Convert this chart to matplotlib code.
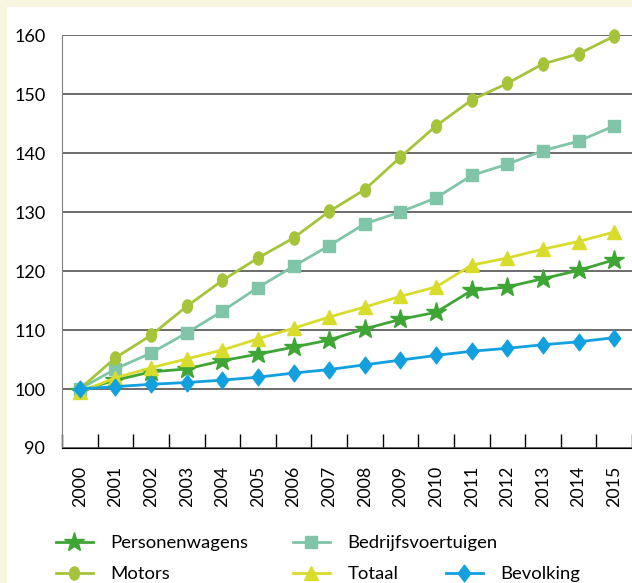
import matplotlib.pyplot as plt
import numpy as np
from matplotlib.patches import Rectangle
from matplotlib.path import Path

plt.rcParams['font.family'] = ['Lato', 'DejaVu Sans']

years = ['2000', '2001', '2002', '2003', '2004', '2005', '2006', '2007',
         '2008', '2009', '2010', '2011', '2012', '2013', '2014', '2015']
personenwagens = [99.7, 101.5, 102.9, 103.4, 104.8, 105.9, 107.1, 108.3,
                  110.2, 111.8, 113.0, 116.7, 117.3, 118.7, 120.1, 121.9]
bedrijfsvoertuigen = [100.0, 103.4, 106.1, 109.5, 113.2, 117.2, 120.8, 124.3,
                      128.0, 130.0, 132.4, 136.2, 138.1, 140.4, 142.0, 144.6]
motors = [100.0, 105.3, 109.1, 114.0, 118.4, 122.2, 125.6, 130.1,
          133.8, 139.3, 144.6, 149.0, 151.8, 155.1, 156.8, 159.8]
totaal = [99.5, 101.9, 103.6, 105.1, 106.6, 108.5, 110.3, 112.2,
          113.9, 115.7, 117.3, 121.0, 122.2, 123.7, 125.0, 126.6]
bevolking = [100.0, 100.4, 100.8, 101.1, 101.5, 102.0, 102.7, 103.3,
             104.1, 104.9, 105.7, 106.4, 106.9, 107.5, 108.0, 108.7]

# tall ellipse and diamond markers like the original
ellipse = Path(Path.unit_circle().vertices * [0.75, 1.0], Path.unit_circle().codes)
diamond = Path([(0, 1), (0.75, 0), (0, -1), (-0.75, 0), (0, 1)],
               [Path.MOVETO, Path.LINETO, Path.LINETO, Path.LINETO, Path.CLOSEPOLY])

series = {
    'Personenwagens': (personenwagens, '#3fa535', '*', 15),
    'Bedrijfsvoertuigen': (bedrijfsvoertuigen, '#80c5a8', 's', 8),
    'Motors': (motors, '#a5c43a', ellipse, 9.5),
    'Totaal': (totaal, '#d8dc2c', '^', 10),
    'Bevolking': (bevolking, '#12a0de', diamond, 12),
}

fig = plt.figure(figsize=(6.32, 5.83), dpi=100, facecolor='#f7f6e1')
fig.patches.append(Rectangle((7 / 632, 0), 1, 1 - 7 / 583, transform=fig.transFigure,
                             facecolor='white', edgecolor='none', zorder=-10))
ax = fig.add_axes([62 / 632, 135 / 583, 570 / 632, 413 / 583])
ax.set_facecolor('none')

x = np.arange(len(years))
handles = {}
for name in ['Personenwagens', 'Bedrijfsvoertuigen', 'Motors', 'Totaal', 'Bevolking']:
    vals, col, mk, ms = series[name]
    line, = ax.plot(x, vals, color=col, lw=2, marker=mk, ms=ms,
                    markeredgecolor=col, clip_on=False, zorder=3)
    handles[name] = line

ax.set_xlim(-0.5, len(years) - 0.5)
ax.set_ylim(90, 160)
ax.set_yticks(np.arange(90, 161, 10))
ax.set_xticks(x)
ax.set_xticklabels(years, rotation=90, fontsize=12.8)
ax.set_xticks(np.arange(-0.5, len(years), 1), minor=True)
ax.tick_params(axis='x', which='major', length=0, pad=13)
ax.tick_params(axis='x', which='minor', direction='in', length=10, width=1, color='black')
ax.tick_params(axis='y', length=0, pad=12, labelsize=13)
ax.grid(axis='y', color='#444444', lw=1.1)
ax.set_axisbelow(True)
for s in ['top', 'right']:
    ax.spines[s].set_visible(False)
ax.spines['left'].set_color('#808080')
ax.spines['bottom'].set_color('black')

# legend laid out like the original (two rows, items at fixed spots)
spots = {
    'Personenwagens': (56, 543),
    'Bedrijfsvoertuigen': (293, 543),
    'Motors': (56, 574),
    'Totaal': (293, 574),
    'Bevolking': (446, 574),
}
for name, (px, py) in spots.items():
    fig.legend([handles[name]], [name], loc='center left',
               bbox_to_anchor=(px / 632, 1 - py / 583), frameon=False,
               borderpad=0, borderaxespad=0, handlelength=2.0,
               handletextpad=0.95, fontsize=13.3)

fig.savefig('out.png', dpi=100, facecolor=fig.get_facecolor())
